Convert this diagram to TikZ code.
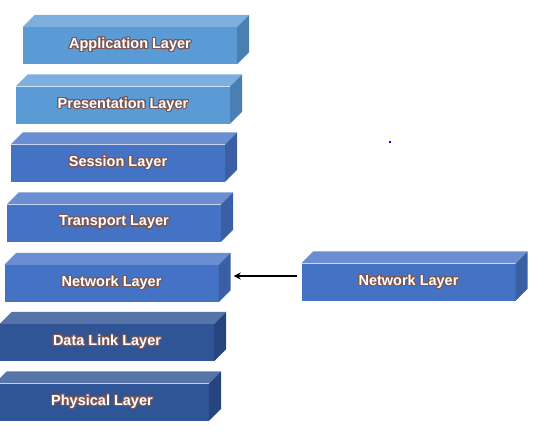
\documentclass[tikz,border=0pt]{standalone}
\usepackage{fontspec}
\setmainfont{Liberation Sans}
\usepackage{contour}
\contournumber{32}
\contourlength{1.1pt}
\usetikzlibrary{calc,arrows.meta}
\definecolor{lightfront}{HTML}{5B9BD5}
\definecolor{lighttop}{HTML}{7DAFDE}
\definecolor{lightside}{HTML}{4A7FB3}
\definecolor{midfront}{HTML}{4472C4}
\definecolor{midtop}{HTML}{6A8ED1}
\definecolor{midside}{HTML}{3A5FA5}
\definecolor{darkfront}{HTML}{2F5597}
\definecolor{darktop}{HTML}{5674A8}
\definecolor{darkside}{HTML}{26457E}
\definecolor{glowc}{HTML}{7A5858}
\tikzset{
  layer/.style={minimum width=214pt, minimum height=37pt, inner sep=0pt,
    text=white, font=\fontsize{14.5}{17}\selectfont\bfseries},
  conn/.style={line width=1.6pt, -{Stealth[length=7pt,width=7pt]}}
}
\newcommand\layerbox[4]{%
  \node[layer, fill=#3front] (#1) at (#2) {\contour{glowc}{#4}};
  \fill[#3top] (#1.north west) -- ++(12pt,12pt) -- ($(#1.north east)+(12pt,12pt)$) -- (#1.north east) -- cycle;
  \fill[#3side] (#1.north east) -- ++(12pt,12pt) -- ($(#1.south east)+(12pt,12pt)$) -- (#1.south east) -- cycle;
}
\begin{document}
\begin{tikzpicture}[x=1pt,y=-1pt]
\useasboundingbox (0,0) rectangle (537,436);
\layerbox{app}{130,45.5}{light}{Application Layer}
\layerbox{pres}{123,105}{light}{Presentation Layer}
\layerbox{sess}{118,163}{mid}{Session Layer}
\layerbox{trans}{114,223}{mid}{Transport Layer}
\layerbox{net}{111.5,283.5}{mid}{Network Layer}
\layerbox{dl}{107,342.5}{dark}{Data Link Layer}
\layerbox{phys}{102,402}{dark}{Physical Layer}
\layerbox{rnet}{408.5,282}{mid}{Network Layer}
\coordinate (tail) at ([xshift=-4pt,yshift=6pt]rnet.west);
\draw[conn] (tail) -- ([xshift=15pt]net.east |- tail);
\fill[blue] (389,141) rectangle (391,143);
\end{tikzpicture}
\end{document}
